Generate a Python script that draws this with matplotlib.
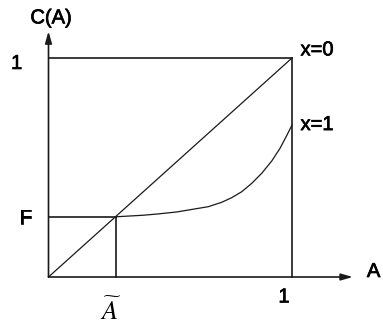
import matplotlib
matplotlib.use("Agg")
import matplotlib.pyplot as plt
import matplotlib.patheffects as pe

# values
F = 0.275          # intersection level on the C(A) axis
A_tilde = 0.277    # intersection point on the A axis
diag_x = [0, 1]
diag_y = [0, 1]
curve_x = [0.277, 0.389, 0.450, 0.527, 0.602, 0.656, 0.711, 0.752, 0.793,
           0.835, 0.876, 0.917, 0.951, 0.978, 1.0]
curve_y = [0.275, 0.282, 0.288, 0.297, 0.311, 0.321, 0.341, 0.362, 0.389,
           0.428, 0.474, 0.530, 0.588, 0.645, 0.694]
labels = ["x=0", "x=1"]

plt.rcParams['font.family'] = ['Liberation Sans', 'DejaVu Sans']
plt.rcParams['mathtext.fontset'] = 'stix'

fig = plt.figure(figsize=(3.83, 3.26), dpi=100)
ax = fig.add_axes([0, 0, 1, 1])
# pixel mapping: origin at (48.5, 277), one unit = 243.5 px across, 219 px up
ax.set_xlim(-48.5 / 243.5, (383 - 48.5) / 243.5)
ax.set_ylim((277 - 326) / 219, 277 / 219)
ax.axis('off')

lc = '#1a1a1a'
lw = 1.2

# axes with arrows
ax.annotate('', xy=(1.25, 0), xytext=(0, 0),
            arrowprops=dict(arrowstyle='-|>,head_length=0.7,head_width=0.2', color=lc, lw=lw, shrinkA=0, shrinkB=0))
ax.annotate('', xy=(0, 1.122), xytext=(0, 0),
            arrowprops=dict(arrowstyle='-|>,head_length=0.7,head_width=0.2', color=lc, lw=lw, shrinkA=0, shrinkB=0))

# box
ax.plot([0, 1], [1, 1], color=lc, lw=lw)
ax.plot([1, 1], [0, 1], color=lc, lw=lw)

# x=0 diagonal and x=1 curve
ax.plot(diag_x, diag_y, color=lc, lw=0.9)
ax.plot(curve_x, curve_y, color=lc, lw=0.9)

# guide lines at the intersection
ax.plot([0, A_tilde], [F, F], color=lc, lw=lw)
ax.plot([A_tilde, A_tilde], [0, F], color=lc, lw=lw)

fs = 14.5
thick = [pe.withStroke(linewidth=0.5, foreground='black')]
tkw = dict(fontsize=fs, path_effects=thick)
ax.text(0.01, 1.183, 'C(A)', ha='center', va='center', **tkw)
ax.text(-0.131, 0.975, '1', ha='center', va='center', **tkw)
ax.text(-0.094, 0.269, 'F', ha='center', va='center', **tkw)
ax.text(1.035, 1.037, labels[0], ha='left', va='center', **tkw)
ax.text(1.035, 0.696, labels[1], ha='left', va='center', **tkw)
ax.text(1.335, 0.025, 'A', ha='center', va='center', **tkw)
ax.text(0.967, -0.091, '1', ha='center', va='center', **tkw)
ax.text(0.257, -0.155, r'$\widetilde{A}$', fontsize=19, ha='center', va='center')

fig.savefig('out.png', dpi=100)
